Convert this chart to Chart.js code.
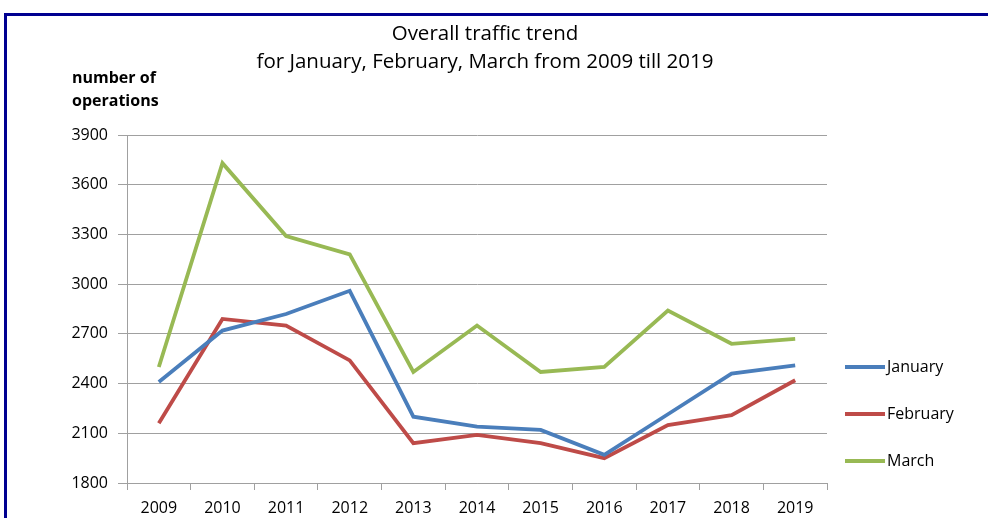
<!DOCTYPE html>
<html>
<head>
<meta charset="utf-8">
<title>Overall traffic trend</title>
<script src="https://cdn.jsdelivr.net/npm/chart.js@4"></script>
<style>
  body { margin: 0; background: #fff; }
  canvas { display: block; }
</style>
</head>
<body>
<canvas id="trafficChart" width="988" height="518"></canvas>
<script>
// ---- data ----
const years = ['2009', '2010', '2011', '2012', '2013', '2014', '2015', '2016', '2017', '2018', '2019'];
const january  = [2410, 2720, 2820, 2960, 2200, 2140, 2120, 1970, 2215, 2460, 2510];
const february = [2160, 2790, 2750, 2540, 2040, 2090, 2040, 1950, 2150, 2210, 2420];
const march    = [2500, 3730, 3290, 3180, 2470, 2750, 2470, 2500, 2840, 2640, 2670];
const titleLines = ['Overall traffic trend', 'for January, February, March from 2009 till 2019'];
const axisLabel = ['number of', 'operations'];

const FONT = '"Open Sans", "Liberation Sans", Arial, sans-serif';
const GRID = '#a0a0a0';

// frame, titles, axis caption and legend drawn by hand to sit where the original has them
const decorations = {
  id: 'decorations',
  beforeDraw(chart) {
    const ctx = chart.ctx;
    ctx.save();
    ctx.fillStyle = '#000090';
    ctx.fillRect(4, 13, chart.width - 4, 3);
    ctx.fillRect(4, 13, 3, chart.height - 13);
    ctx.restore();
  },
  afterDraw(chart) {
    const ctx = chart.ctx;
    ctx.save();
    ctx.fillStyle = '#000';
    ctx.textBaseline = 'middle';

    ctx.font = '20.5px ' + FONT;
    ctx.textAlign = 'center';
    ctx.fillText(titleLines[0], 485, 34);
    ctx.fillText(titleLines[1], 485, 62);

    ctx.font = 'bold 16px ' + FONT;
    ctx.textAlign = 'left';
    ctx.fillText(axisLabel[0], 72, 78);
    ctx.fillText(axisLabel[1], 72, 101);

    ctx.font = '16px ' + FONT;
    chart.data.datasets.forEach((ds, i) => {
      const y = 367 + i * 47;
      ctx.strokeStyle = ds.borderColor;
      ctx.lineWidth = 3.8;
      ctx.beginPath();
      ctx.moveTo(845, y);
      ctx.lineTo(885, y);
      ctx.stroke();
      ctx.fillText(ds.label, 887, y);
    });
    ctx.restore();
  }
};

new Chart(document.getElementById('trafficChart'), {
  type: 'line',
  data: {
    labels: years,
    datasets: [
      { label: 'January',  data: january,  borderColor: '#4a7ebb' },
      { label: 'February', data: february, borderColor: '#be4b48' },
      { label: 'March',    data: march,    borderColor: '#98b954' }
    ]
  },
  options: {
    responsive: false,
    animation: false,
    layout: { padding: { top: 135, right: 161, bottom: 0, left: 0 } },
    elements: {
      line: { borderWidth: 3.8, tension: 0, fill: false },
      point: { radius: 0, hoverRadius: 0 }
    },
    plugins: {
      legend: { display: false },
      title: { display: false },
      tooltip: { enabled: false }
    },
    scales: {
      x: {
        offset: true,
        grid: { offset: true, drawOnChartArea: false, color: GRID, tickLength: 7 },
        border: { color: GRID },
        ticks: { color: '#000', font: { family: FONT, size: 16 }, padding: 9, maxRotation: 0 },
        afterFit: s => { s.height = 35; }
      },
      y: {
        min: 1800,
        max: 3900,
        grid: { color: GRID, tickLength: 9 },
        border: { color: GRID },
        ticks: {
          stepSize: 300,
          color: '#000',
          font: { family: FONT, size: 16 },
          padding: 10,
          callback: v => String(v)
        },
        afterFit: s => { s.width = 127; }
      }
    }
  },
  plugins: [decorations]
});
</script>
</body>
</html>
